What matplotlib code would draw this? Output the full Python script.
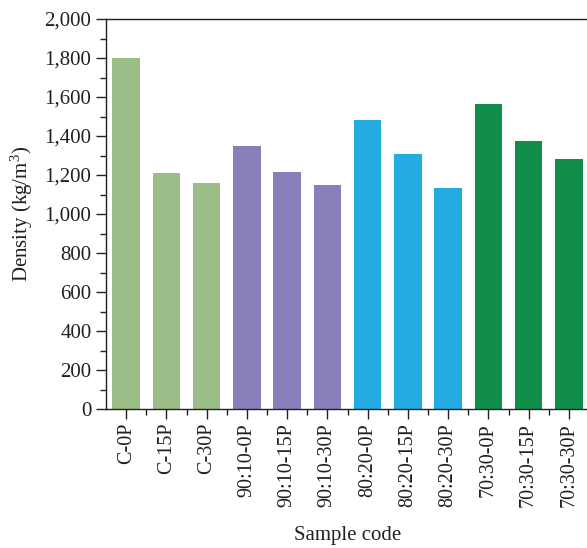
import matplotlib
matplotlib.use("Agg")
import matplotlib.pyplot as plt
from matplotlib.ticker import MultipleLocator, FuncFormatter
import numpy as np

samples = ['C-0P', 'C-15P', 'C-30P',
           '90:10-0P', '90:10-15P', '90:10-30P',
           '80:20-0P', '80:20-15P', '80:20-30P',
           '70:30-0P', '70:30-15P', '70:30-30P']
density = [1800, 1210, 1159, 1349, 1215, 1149, 1482, 1308, 1133, 1564, 1374, 1282]
group_colors = ['#9bbd87', '#8880bb', '#24abe2', '#118d4a']

plt.rcParams['font.family'] = ['Liberation Serif', 'DejaVu Serif']
plt.rcParams['mathtext.fontset'] = 'custom'
plt.rcParams['mathtext.rm'] = 'Liberation Serif'
plt.rcParams['mathtext.it'] = 'Liberation Serif:italic'

fig = plt.figure(figsize=(5.87, 5.48), dpi=100)
ax = fig.add_axes([106/587, (548-409)/548, (589-106)/587, (409-19)/548])

x = np.arange(len(samples))
colors = [group_colors[i // 3] for i in range(len(samples))]
ax.bar(x, density, width=0.68, color=colors, zorder=2)

ax.set_xlim(-0.5, len(samples) - 0.5)
ax.set_ylim(0, 2000)
ax.yaxis.set_major_locator(MultipleLocator(200))
ax.yaxis.set_minor_locator(MultipleLocator(100))
ax.yaxis.set_major_formatter(FuncFormatter(lambda v, p: f'{int(v):,}'))
ax.set_xticks(x)
ax.set_xticklabels(samples, rotation=90)
ax.set_xticks(x[:-1] + 0.5, minor=True)

ink = '#231f20'
for s in ax.spines.values():
    s.set_linewidth(1.0)
    s.set_color(ink)
ax.tick_params(which='major', direction='out', length=7, width=1.0, color=ink,
               labelsize=15, labelcolor=ink)
ax.tick_params(which='minor', direction='out', length=4, width=1.0, color=ink)
ax.tick_params(axis='x', labelsize=14.5, pad=3)

ax.set_ylabel('Density (kg/m$^3$)', fontsize=15, color=ink, labelpad=7)
ax.set_xlabel('Sample code', fontsize=15, color=ink, labelpad=14)

fig.savefig('out.png', dpi=100)
